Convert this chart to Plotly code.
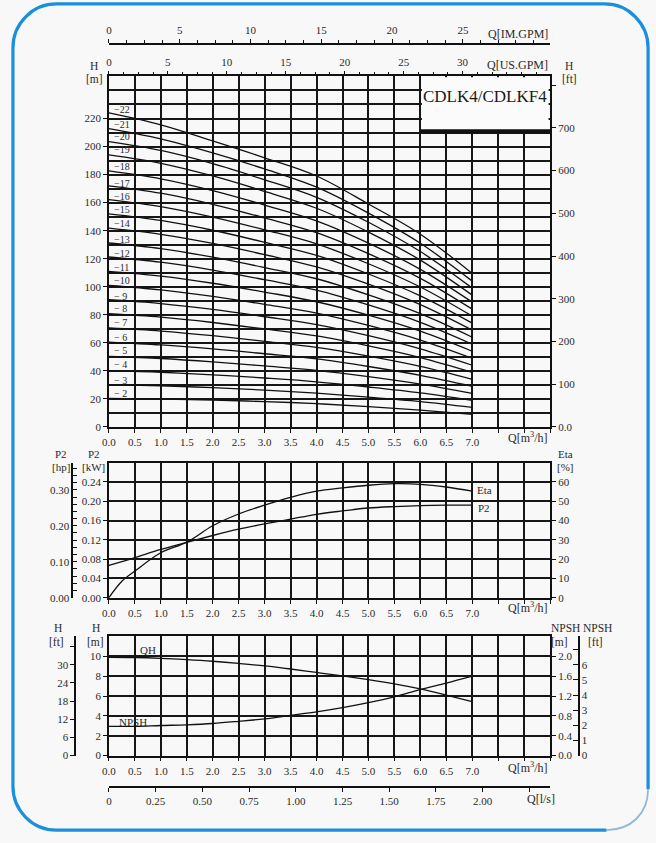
import plotly.graph_objects as go

W, H = 656, 843

# ---------------- data ----------------
flow_pts = [0, 1, 2, 3, 4, 5, 6, 7]
stages = list(range(2, 23))
h2 = [20.4, 19.9, 19.1, 18.1, 16.6, 14.5, 12.0, 9.0]
h3 = [30.2, 29.3, 28.0, 26.3, 24.1, 21.3, 18.1, 14.0]
h4 = [40.2, 39.0, 37.2, 34.9, 32.2, 28.5, 24.3, 19.0]
h5 = [50.4, 48.8, 46.4, 43.5, 40.4, 35.9, 30.6, 24.0]
h6 = [60.4, 58.5, 55.7, 52.2, 48.5, 43.1, 36.8, 29.0]
h7 = [70.6, 68.4, 65.1, 61.1, 56.7, 50.5, 43.2, 34.0]
h8 = [80.8, 78.3, 74.5, 69.9, 64.9, 57.8, 49.5, 39.0]
h9 = [90.8, 88.0, 83.8, 78.6, 73.0, 65.1, 55.7, 44.0]
h10 = [100.9, 97.8, 93.1, 87.4, 81.2, 72.4, 62.0, 49.0]
h11 = [111.0, 107.6, 102.5, 96.2, 89.3, 79.7, 68.3, 54.0]
h12 = [121.2, 117.5, 111.9, 105.0, 97.6, 87.0, 74.6, 59.0]
h13 = [131.2, 127.2, 121.1, 113.7, 105.7, 94.2, 80.8, 64.0]
h14 = [141.8, 137.4, 130.9, 122.9, 114.1, 101.8, 87.2, 69.0]
h15 = [152.0, 147.3, 140.3, 131.7, 122.4, 109.1, 93.5, 74.0]
h16 = [162.2, 157.2, 149.7, 140.6, 130.6, 116.4, 99.8, 79.0]
h17 = [172.0, 166.7, 158.8, 149.1, 138.6, 123.6, 106.0, 84.0]
h18 = [182.6, 177.0, 168.6, 158.3, 147.0, 131.1, 112.4, 89.0]
h19 = [194.0, 188.0, 179.0, 168.0, 156.0, 139.0, 119.0, 94.0]
h20 = [203.5, 197.2, 187.8, 176.3, 163.8, 146.0, 125.1, 99.0]
h21 = [212.8, 205.5, 195.5, 184.0, 171.0, 152.5, 131.0, 104.0]
h22 = [224.0, 215.5, 204.0, 192.0, 179.0, 159.0, 137.5, 109.5]
stage_heads = [h2, h3, h4, h5, h6, h7, h8, h9, h10, h11, h12, h13, h14,
               h15, h16, h17, h18, h19, h20, h21, h22]
stage_label_h = [24.0, 33.4, 44.2, 54.7, 64.0, 74.5, 84.2, 92.9, 104.4, 114.0,
                 123.4, 133.5, 145.0, 155.0, 164.5, 174.0, 185.7, 198.0, 207.0,
                 215.7, 226.6]

perf_q = [0, 0.25, 0.5, 1.0, 1.5, 2.0, 2.5, 3.0, 3.5, 4.0, 4.5, 5.0, 5.5, 6.0, 6.5, 7.0]
p2_kw = [0.067, 0.075, 0.083, 0.100, 0.115, 0.129, 0.142, 0.153, 0.163, 0.173,
         0.180, 0.186, 0.189, 0.191, 0.192, 0.192]
eta_pct = [0.0, 8.5, 13.8, 23.3, 28.8, 37.3, 43.4, 48.0, 52.0, 55.2, 56.9,
           58.3, 59.1, 58.8, 57.4, 55.2]

small_q = [0, 0.5, 1.0, 1.5, 2.0, 2.5, 3.0, 3.5, 4.0, 4.5, 5.0, 5.5, 6.0, 6.5, 7.0]
qh_m = [9.9, 9.88, 9.8, 9.67, 9.5, 9.28, 9.03, 8.72, 8.37, 8.03, 7.65, 7.22, 6.72, 6.1, 5.43]
npsh_m = [0.59, 0.59, 0.606, 0.62, 0.646, 0.69, 0.74, 0.81, 0.88, 0.965, 1.065, 1.185, 1.33, 1.46, 1.60]

q_ticks = [0, 0.5, 1.0, 1.5, 2.0, 2.5, 3.0, 3.5, 4.0, 4.5, 5.0, 5.5, 6.0, 6.5, 7.0]
q_labels = ['0.0', '0.5', '1.0', '1.5', '2.0', '2.5', '3.0', '3.5', '4.0', '4.5',
            '5.0', '5.5', '6.0', '6.5', '7.0']
h_ticks = [0, 20, 40, 60, 80, 100, 120, 140, 160, 180, 200, 220]
ft_ticks = [0, 100, 200, 300, 400, 500, 600, 700]
ft_labels = ['0.0', '100', '200', '300', '400', '500', '600', '700']
usgpm_ticks = [0, 5, 10, 15, 20, 25, 30]
imgpm_ticks = [0, 5, 10, 15, 20, 25]
kw_ticks = [0, 0.04, 0.08, 0.12, 0.16, 0.20, 0.24]
kw_labels = ['0.00', '0.04', '0.08', '0.12', '0.16', '0.20', '0.24']
eta_ticks = [0, 10, 20, 30, 40, 50, 60]
hp_ticks = [0, 0.10, 0.20, 0.30]
hp_labels = ['0.00', '0.10', '0.20', '0.30']
hm_ticks = [0, 2, 4, 6, 8, 10]
npshm_ticks = [0, 0.4, 0.8, 1.2, 1.6, 2.0]
npshm_labels = ['0.0', '0.4', '0.8', '1.2', '1.6', '2.0']
hft_ticks = [0, 6, 12, 18, 24, 30]
npshft_ticks = [0, 1, 2, 3, 4, 5, 6]
ls_ticks = [0, 0.25, 0.5, 0.75, 1.0, 1.25, 1.5, 1.75, 2.0]
ls_labels = ['0', '0.25', '0.50', '0.75', '1.00', '1.25', '1.50', '1.75', '2.00']

Q_MAX = 8.5
H_MAX = 250
KW_MAX = 0.28
ETA_MAX = 70
HS_MAX = 12
NPSH_MAX = 2.4
M_TO_FT = 3.28084
TO_USGPM = 4.4029
TO_IMGPM = 3.6662
TO_LS = 1 / 3.6
KW_TO_HP = 1.34102

# ---------------- style ----------------
FONT = "Liberation Serif"
TXT = "#2a2a2a"
GRID = "#161616"
GW = 1.6
BG = "#f8f8f8"


def px(x):
    return x / W


def py(y):
    return 1 - y / H


XD = [px(103), px(549)]
D_MAIN = [py(430), py(77)]
D_MID = [py(602), py(466)]
D_BOT = [py(761), py(641)]

tickfont = dict(family=FONT, size=11, color=TXT)
CURVE = dict(color="#111", width=1.3, shape="spline")

fig = go.Figure()

for n, hs in zip(stages, stage_heads):
    fig.add_trace(go.Scatter(x=flow_pts, y=hs, mode="lines", line=CURVE,
                             xaxis="x", yaxis="y", hoverinfo="skip", showlegend=False))

fig.add_trace(go.Scatter(x=perf_q, y=p2_kw, mode="lines", line=CURVE, xaxis="x4", yaxis="y3", showlegend=False))
fig.add_trace(go.Scatter(x=perf_q, y=eta_pct, mode="lines", line=CURVE, xaxis="x4", yaxis="y4", showlegend=False))
fig.add_trace(go.Scatter(x=small_q, y=qh_m, mode="lines", line=CURVE, xaxis="x5", yaxis="y6", showlegend=False))
fig.add_trace(go.Scatter(x=small_q, y=npsh_m, mode="lines", line=CURVE, xaxis="x5", yaxis="y7", showlegend=False))

# empty traces so that every unit axis gets drawn
for xa, ya in [("x", "y2"), ("x2", "y"), ("x3", "y"), ("x4", "y5"), ("x5", "y8"), ("x5", "y9"), ("x6", "y6")]:
    fig.add_trace(go.Scatter(x=[None], y=[None], mode="lines", xaxis=xa, yaxis=ya,
                             hoverinfo="skip", showlegend=False))


def minor_ticks(step, ticks="outside", ln=4, grid=False):
    d = dict(tickmode="linear", tick0=0, dtick=step, ticks=ticks, ticklen=ln, tickcolor="#111",
             showgrid=grid)
    if grid:
        d.update(gridcolor=GRID, gridwidth=GW)
    return d


def qaxis(anchor):
    return dict(domain=XD, anchor=anchor, range=[0, Q_MAX], tickmode="array", tickvals=q_ticks,
                ticktext=q_labels, showgrid=True, gridcolor=GRID, gridwidth=GW, zeroline=False,
                showline=True, linecolor="#111", linewidth=1.6, mirror=True, ticks="outside",
                ticklen=4, tickcolor="#111", tickfont=tickfont,
                minor=minor_ticks(0.5, grid=True))


def side_axis(**kw):
    d = dict(showgrid=False, zeroline=False, showline=True, linecolor="#111", linewidth=1.6,
             ticks="outside", ticklen=4, tickcolor="#111", tickfont=tickfont, tickmode="array")
    d.update(kw)
    return d


layout = dict(
    width=W, height=H, margin=dict(l=0, r=0, t=0, b=0),
    paper_bgcolor=BG, plot_bgcolor=BG, showlegend=False,
    font=dict(family=FONT, color=TXT),
    xaxis=qaxis("y"),
    yaxis=dict(domain=D_MAIN, anchor="x", range=[0, H_MAX], tickmode="array", tickvals=h_ticks,
               showgrid=True, gridcolor=GRID, gridwidth=GW, zeroline=False, showline=True,
               linecolor="#111", linewidth=1.6, mirror=True, ticks="outside", ticklen=4,
               tickcolor="#111", tickfont=tickfont,
               minor=minor_ticks(10, ticks="", grid=True)),
    yaxis2=side_axis(overlaying="y", side="right", anchor="x", range=[0, H_MAX * M_TO_FT],
                     tickvals=ft_ticks, ticktext=ft_labels, minor=minor_ticks(100)),
    xaxis2=side_axis(overlaying="x", side="top", anchor="y", range=[0, Q_MAX * TO_USGPM],
                     tickvals=usgpm_ticks, minor=minor_ticks(1.25, ln=3)),
    xaxis3=side_axis(overlaying="x", side="top", anchor="free", position=py(44),
                     range=[0, Q_MAX * TO_IMGPM], tickvals=imgpm_ticks,
                     minor=minor_ticks(1.25, ln=3)),
    xaxis4=qaxis("y3"),
    yaxis3=dict(domain=D_MID, anchor="x4", range=[0, KW_MAX], tickmode="array", tickvals=kw_ticks,
                ticktext=kw_labels, showgrid=True, gridcolor=GRID, gridwidth=GW, zeroline=False,
                showline=True, linecolor="#111", linewidth=1.6, mirror=True, ticks="outside",
                ticklen=4, tickcolor="#111", tickfont=tickfont),
    yaxis4=side_axis(overlaying="y3", side="right", anchor="x4", range=[0, ETA_MAX],
                     tickvals=eta_ticks),
    yaxis5=side_axis(overlaying="y3", side="left", anchor="free", position=px(66),
                     range=[0, KW_MAX * KW_TO_HP], tickvals=hp_ticks, ticktext=hp_labels,
                     ticks="inside", ticklen=4, minor=minor_ticks(0.02, ticks="inside")),
    xaxis5=qaxis("y6"),
    yaxis6=dict(domain=D_BOT, anchor="x5", range=[0, HS_MAX], tickmode="array", tickvals=hm_ticks,
                showgrid=True, gridcolor=GRID, gridwidth=GW, zeroline=False, showline=True,
                linecolor="#111", linewidth=1.6, mirror=True, ticks="outside", ticklen=4,
                tickcolor="#111", tickfont=tickfont),
    yaxis7=side_axis(overlaying="y6", side="right", anchor="x5", range=[0, NPSH_MAX],
                     tickvals=npshm_ticks, ticktext=npshm_labels),
    yaxis8=side_axis(overlaying="y6", side="left", anchor="free", position=px(69),
                     range=[0, HS_MAX * M_TO_FT], tickvals=hft_ticks, minor=minor_ticks(6)),
    yaxis9=side_axis(overlaying="y6", side="right", anchor="free", position=px(578),
                     range=[0, NPSH_MAX * M_TO_FT], tickvals=npshft_ticks,
                     ticks="inside", ticklen=5, minor=minor_ticks(1, ticks="inside", ln=5)),
    xaxis6=side_axis(overlaying="x5", side="bottom", anchor="free", position=py(793),
                     range=[0, Q_MAX * TO_LS], tickvals=ls_ticks, ticktext=ls_labels,
                     minor=minor_ticks(0.25)),
)
fig.update_layout(**layout)

ann = []


def label(text, x, y, size=12, xanchor="center"):
    ann.append(dict(text=text, x=px(x), y=py(y), xref="paper", yref="paper", showarrow=False,
                    xanchor=xanchor, yanchor="middle", font=dict(family=FONT, size=size, color=TXT)))


label("Q[IM.GPM]", 549, 34, xanchor="right")
label("Q[US.GPM]", 549, 65, xanchor="right")
label("H", 88, 66.5, size=11.5)
label("[m]", 88, 80, size=11.5)
label("H", 568, 66.5, size=11.5)
label("[ft]", 569, 80, size=11.5)
label("Q[m<sup>3</sup>/h]", 549, 441, xanchor="right")
label("P2", 55, 457.5, size=11)
label("[hp]", 55, 470.5, size=11)
label("P2", 88, 457.5, size=11)
label("[kW]", 87, 470.5, size=11)
label("Eta", 565, 457.5, size=11)
label("[%]", 565, 470.5, size=11)
label("Q[m<sup>3</sup>/h]", 549, 612, xanchor="right")
label("H", 52, 633, size=11.5)
label("[ft]", 50, 646.5, size=11.5)
label("H", 90, 633, size=11.5)
label("[m]", 89, 646.5, size=11.5)
label("NPSH", 565, 633, size=11.5)
label("NPSH", 597, 633, size=11.5)
label("[m]", 558, 646.5, size=11.5)
label("[ft]", 595, 646.5, size=11.5)
label("Q[m<sup>3</sup>/h]", 549, 773, xanchor="right")
label("Q[l/s]", 556, 805, xanchor="right")

for n, yh in zip(stages, stage_label_h):
    t = ("\u2212" + str(n)) if n >= 10 else ("\u2212 " + str(n))
    ann.append(dict(text=t, x=0.05, y=yh, xref="x", yref="y", showarrow=False, xanchor="left",
                    yanchor="middle", font=dict(family=FONT, size=10, color=TXT)))

ann.append(dict(text="Eta", x=7.05, y=55.6, xref="x4", yref="y4", showarrow=False, xanchor="left",
                font=dict(family=FONT, size=11, color=TXT)))
ann.append(dict(text="P2", x=7.08, y=0.186, xref="x4", yref="y3", showarrow=False, xanchor="left",
                font=dict(family=FONT, size=11, color=TXT)))
ann.append(dict(text="QH", x=0.76, y=10.6, xref="x5", yref="y6", showarrow=False,
                font=dict(family=FONT, size=11, color=TXT)))
ann.append(dict(text="NPSH", x=0.46, y=3.4, xref="x5", yref="y6", showarrow=False,
                font=dict(family=FONT, size=11, color=TXT)))
ann.append(dict(text="CDLK4/CDLKF4", x=7.25, y=235.5, xref="x", yref="y", showarrow=False,
                font=dict(family=FONT, size=17, color="#1a1a1a")))

shapes = []
# title box
shapes.append(dict(type="rect", xref="x", yref="y", x0=6.03, x1=8.47, y0=211, y1=249.4,
                   fillcolor="#fbfbfb", line=dict(width=0), layer="above"))
shapes.append(dict(type="line", xref="x", yref="y", x0=6.0, x1=8.5, y0=211.0, y1=211.0,
                   line=dict(color="#111", width=4), layer="above"))


def P(x, y):
    return f"{px(x):.5f},{py(y):.5f}"


k = 0.5523
r = 44
L, R, T, B = 6, 648, 4, 836
border = (f"M {P(R, 795)} L {P(R, T + r)} C {P(R, T + r - k * r)} {P(R - r + k * r, T)} {P(R - r, T)} "
          f"L {P(L + r, T)} C {P(L + r - k * r, T)} {P(L, T + r - k * r)} {P(L, T + r)} "
          f"L {P(L, B - r)} C {P(L, B - r + k * r)} {P(L + r - k * r, B)} {P(L + r, B)} L {P(606, B)}")
shapes.append(dict(type="path", xref="paper", yref="paper", path=border,
                   line=dict(color="#1b8fdc", width=3.2)))
corner = f"M {P(606, B)} C {P(630, B)} {P(R, 820)} {P(R, 795)}"
shapes.append(dict(type="path", xref="paper", yref="paper", path=corner,
                   line=dict(color="#8fb9d9", width=1.8)))

fig.update_layout(annotations=ann, shapes=shapes)
fig.write_html("out.html", config={"displayModeBar": False},
               post_script="document.body.style.margin='0px';document.body.style.overflow='hidden';")
